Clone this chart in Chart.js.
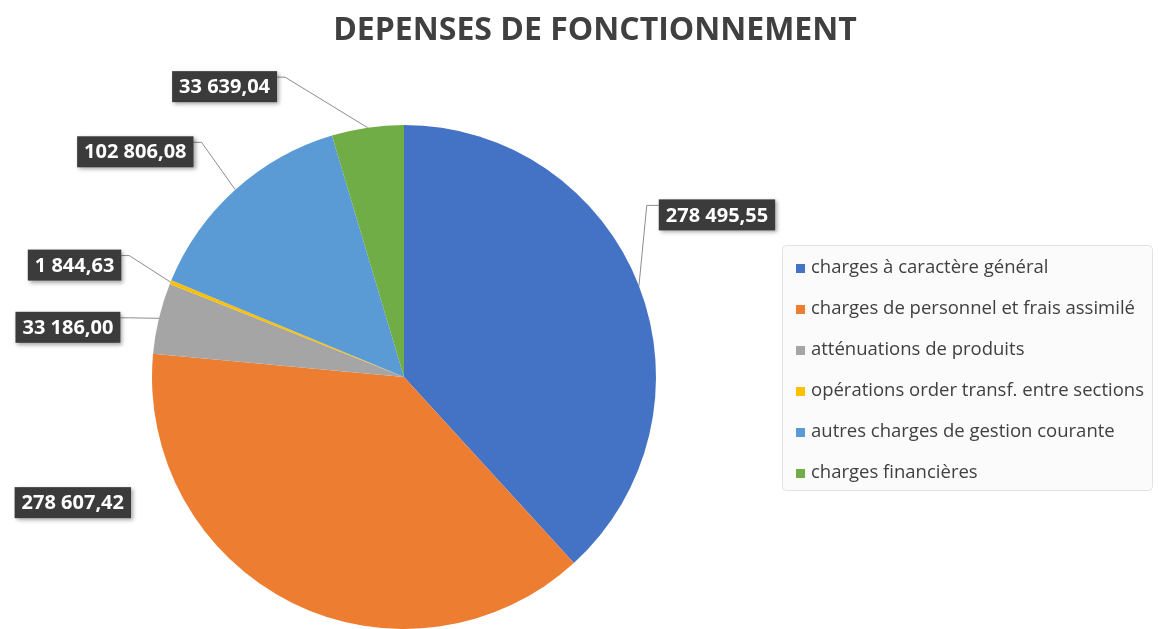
<!DOCTYPE html>
<html>
<head>
<meta charset="utf-8">
<script src="https://cdn.jsdelivr.net/npm/chart.js@4/dist/chart.umd.min.js"></script>
<style>
html,body{margin:0;padding:0;background:#ffffff;}
#wrap{width:1158px;height:629px;position:relative;}
</style>
</head>
<body>
<div id="wrap"><canvas id="c" width="1158" height="629"></canvas></div>
<script>
const chartTitle = 'DEPENSES DE FONCTIONNEMENT';
const categories = [
  'charges à caractère général',
  'charges de personnel et frais assimilé',
  'atténuations de produits',
  'opérations order transf. entre sections',
  'autres charges de gestion courante',
  'charges financières'
];
const values = [278495.55, 278607.42, 33186.00, 1844.63, 102806.08, 33639.04];
const colors = ['#4472C4', '#ED7D31', '#A5A5A5', '#FFC000', '#5B9BD5', '#70AD47'];
// label box centre offset from the slice's outer-arc midpoint
const labelOffsets = [[78, -71], [-219, -100], [-91, 9], [-96, -17], [-100, -38], [-143, -41]];
const showLeader = [true, false, true, true, true, true];

function fmtFr(v) {
  const parts = v.toFixed(2).split('.');
  const intPart = parts[0].replace(/\B(?=(\d{3})+(?!\d))/g, ' ');
  return intPart + ',' + parts[1];
}

const titlePlugin = {
  id: 'customTitle',
  afterDraw(chart) {
    const ctx = chart.ctx;
    ctx.save();
    ctx.font = 'bold 32px "Open Sans"';
    ctx.fillStyle = '#404040';
    ctx.textAlign = 'center';
    ctx.textBaseline = 'middle';
    ctx.fillText(chartTitle, 595, 31);
    ctx.restore();
  }
};

const legendPlugin = {
  id: 'customLegend',
  afterDraw(chart) {
    const ctx = chart.ctx;
    ctx.save();
    const bx = 782, by = 245, bw = 370, bh = 245;
    ctx.fillStyle = '#fbfbfb';
    ctx.strokeStyle = '#e2e2e2';
    ctx.lineWidth = 1;
    ctx.beginPath();
    ctx.roundRect(bx + 0.5, by + 0.5, bw, bh, 4);
    ctx.fill();
    ctx.stroke();
    ctx.font = '18.5px "Open Sans"';
    ctx.textBaseline = 'middle';
    ctx.textAlign = 'left';
    chart.data.labels.forEach((lab, i) => {
      const yy = 268 + i * 41;
      ctx.fillStyle = chart.data.datasets[0].backgroundColor[i];
      ctx.fillRect(796, yy - 4, 9, 9);
      ctx.fillStyle = '#404040';
      ctx.fillText(lab, 811, yy);
    });
    ctx.restore();
  }
};

const dataLabelPlugin = {
  id: 'calloutLabels',
  afterDatasetsDraw(chart) {
    const ctx = chart.ctx;
    const meta = chart.getDatasetMeta(0);
    ctx.save();
    ctx.font = 'bold 20px "Open Sans"';
    const boxes = [];
    meta.data.forEach((arc, i) => {
      const p = arc.getProps(['x', 'y', 'startAngle', 'endAngle', 'outerRadius'], true);
      const mid = (p.startAngle + p.endAngle) / 2;
      const ax = p.x + Math.cos(mid) * p.outerRadius;
      const ay = p.y + Math.sin(mid) * p.outerRadius;
      const txt = fmtFr(chart.data.datasets[0].data[i]);
      const w = ctx.measureText(txt).width + 14;
      const h = 31;
      const cx = ax + labelOffsets[i][0];
      const cy = ay + labelOffsets[i][1];
      boxes.push({ax, ay, cx, cy, w, h, txt, i});
    });
    // leader lines
    ctx.strokeStyle = '#8c8c8c';
    ctx.lineWidth = 1;
    boxes.forEach(b => {
      if (!showLeader[b.i]) return;
      const left = b.cx - b.w / 2, top = b.cy - b.h / 2;
      const onLeft = b.cx < b.ax;
      const ex = onLeft ? left + b.w : left;
      const ty = top + 6;
      const kx = onLeft ? ex + 8 : ex - 12;
      ctx.beginPath();
      ctx.moveTo(b.ax, b.ay);
      ctx.lineTo(kx, ty);
      ctx.lineTo(ex, ty);
      ctx.stroke();
    });
    // boxes
    boxes.forEach(b => {
      const left = b.cx - b.w / 2, top = b.cy - b.h / 2;
      ctx.save();
      ctx.shadowColor = 'rgba(0,0,0,0.35)';
      ctx.shadowBlur = 4;
      ctx.shadowOffsetX = 2;
      ctx.shadowOffsetY = 2;
      ctx.fillStyle = '#3b3b3b';
      ctx.fillRect(left, top, b.w, b.h);
      ctx.restore();
      ctx.fillStyle = '#ffffff';
      ctx.textAlign = 'center';
      ctx.textBaseline = 'middle';
      ctx.fillText(b.txt, b.cx, b.cy + 1);
    });
    ctx.restore();
  }
};

new Chart(document.getElementById('c'), {
  type: 'pie',
  data: {
    labels: categories,
    datasets: [{
      data: values,
      backgroundColor: colors,
      borderWidth: 0
    }]
  },
  options: {
    responsive: false,
    animation: false,
    layout: { padding: { top: 125, right: 350, left: 0, bottom: 0 } },
    plugins: {
      legend: { display: false },
      title: { display: false },
      tooltip: { enabled: false }
    }
  },
  plugins: [dataLabelPlugin, legendPlugin, titlePlugin]
});
</script>
</body>
</html>
